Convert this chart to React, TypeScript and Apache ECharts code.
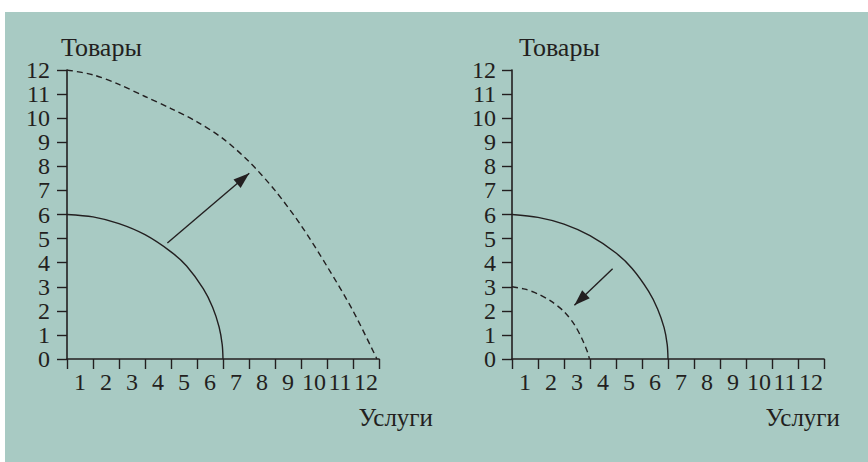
import React, { useEffect, useRef } from "react";
import * as echarts from "echarts";

const INK = "#231f20";
const BG = "#a8cac3";
const FONT = "Liberation Serif";

// Tick labels
const xTickLabels = ["1", "2", "3", "4", "5", "6", "7", "8", "9", "10", "11", "12"];
const axisMin = 0;
const axisMax = 12;

// Left panel: growth of the frontier
const leftSolidX = [0, 1, 2, 3, 4, 4.6, 5.24, 5.6, 5.85, 5.97, 6.0];
const leftSolidY = [6, 5.9, 5.62, 5.16, 4.45, 3.86, 2.92, 2.15, 1.33, 0.6, 0];
const leftDashedX = [0, 1, 2, 3, 4, 5, 6, 7, 8, 9, 10, 11, 11.92];
const leftDashedY = [12, 11.8, 11.4, 10.9, 10.4, 9.85, 9.15, 8.2, 7.0, 5.55, 3.85, 2.0, 0];
const leftArrow = [
  [3.86, 4.82],
  [7.01, 7.71],
];

// Right panel: contraction of the frontier
const rightSolidX = [0, 1, 2, 3, 4, 4.62, 5.25, 5.6, 5.85, 5.97, 6.0];
const rightSolidY = [6, 5.88, 5.6, 5.12, 4.4, 3.76, 2.82, 2.08, 1.3, 0.6, 0];
const rightDashedX = [0, 0.5, 1, 1.5, 2, 2.4, 2.7, 2.9, 2.98];
const rightDashedY = [3, 2.9, 2.7, 2.4, 1.97, 1.43, 0.82, 0.3, 0];
const rightArrow = [
  [3.87, 3.75],
  [2.4, 2.23],
];

const yName = "Товары";
const xName = "Услуги";

function zip(xs: number[], ys: number[]) {
  return xs.map((x, i) => [x, ys[i]]);
}

function valueX(gridIndex: number) {
  return {
    type: "value",
    gridIndex,
    min: axisMin,
    max: axisMax,
    interval: 1,
    position: "bottom",
    axisLine: { show: true, onZero: false, lineStyle: { color: INK, width: 1.6 } },
    axisTick: { show: true, length: 10, lineStyle: { color: INK, width: 1.4 } },
    axisLabel: { show: false },
    splitLine: { show: false },
  };
}

function categoryX(gridIndex: number) {
  return {
    type: "category",
    gridIndex,
    data: xTickLabels,
    boundaryGap: true,
    position: "bottom",
    axisLine: { show: false },
    axisTick: { show: false },
    axisLabel: {
      show: true,
      margin: 11,
      color: INK,
      fontFamily: FONT,
      fontSize: 24,
      lineHeight: 24,
      interval: 0,
    },
    splitLine: { show: false },
  };
}

function valueY(gridIndex: number, margin: number) {
  return {
    type: "value",
    gridIndex,
    min: axisMin,
    max: axisMax,
    interval: 1,
    axisLine: { show: true, lineStyle: { color: INK, width: 1.6 } },
    axisTick: { show: true, length: 10, lineStyle: { color: INK, width: 1.4 } },
    axisLabel: {
      show: true,
      margin,
      color: INK,
      fontFamily: FONT,
      fontSize: 24,
      lineHeight: 24,
    },
    splitLine: { show: false },
  };
}

function curve(xAxisIndex: number, yAxisIndex: number, xs: number[], ys: number[], dashed: boolean) {
  return {
    type: "line",
    xAxisIndex,
    yAxisIndex,
    data: zip(xs, ys),
    smooth: 0.3,
    symbol: "none",
    silent: true,
    lineStyle: {
      color: INK,
      width: 1.4,
      type: dashed ? [6, 4] : "solid",
    },
  };
}

function arrow(xAxisIndex: number, yAxisIndex: number, pts: number[][]) {
  return {
    type: "line",
    xAxisIndex,
    yAxisIndex,
    data: [],
    symbol: "none",
    silent: true,
    markLine: {
      silent: true,
      animation: false,
      symbol: ["none", "triangle"],
      symbolSize: [11, 16],
      symbolOffset: [
        [0, 0],
        [0, 8],
      ],
      label: { show: false },
      lineStyle: { color: INK, width: 1.4, type: "solid" },
      itemStyle: { color: INK },
      emphasis: { disabled: true },
      data: [[{ coord: pts[0] }, { coord: pts[1] }]],
    },
  };
}

export default function App() {
  const ref = useRef<HTMLDivElement>(null);

  useEffect(() => {
    if (!ref.current) return;
    const chart = echarts.init(ref.current, undefined, { renderer: "svg" });
    const yNameStyle = { fontFamily: FONT, fontSize: 26, fill: INK };
    const xNameStyle = { fontFamily: FONT, fontSize: 25, fill: INK };
    chart.setOption({
      animation: false,
      backgroundColor: "transparent",
      grid: [
        { left: 67, top: 70, width: 312, height: 289 },
        { left: 512, top: 70, width: 312, height: 289 },
      ],
      xAxis: [valueX(0), categoryX(0), valueX(1), categoryX(1)],
      yAxis: [valueY(0, 17), valueY(1, 16)],
      series: [
        curve(0, 0, leftSolidX, leftSolidY, false),
        curve(0, 0, leftDashedX, leftDashedY, true),
        arrow(0, 0, leftArrow),
        curve(2, 1, rightSolidX, rightSolidY, false),
        curve(2, 1, rightDashedX, rightDashedY, true),
        arrow(2, 1, rightArrow),
      ],
      graphic: [
        { type: "text", x: 61, y: 47, style: { ...yNameStyle, text: yName, textAlign: "left", textVerticalAlign: "middle" } },
        { type: "text", x: 519, y: 47, style: { ...yNameStyle, text: yName, textAlign: "left", textVerticalAlign: "middle" } },
        { type: "text", x: 433, y: 417, style: { ...xNameStyle, text: xName, textAlign: "right", textVerticalAlign: "middle" } },
        { type: "text", x: 840, y: 417, style: { ...xNameStyle, text: xName, textAlign: "right", textVerticalAlign: "middle" } },
      ],
    });
    return () => chart.dispose();
  }, []);

  return (
    <div style={{ position: "fixed", left: 0, top: 0, width: 868, height: 462, background: "#ffffff" }}>
      <div style={{ position: "absolute", left: 5, top: 12, right: 0, bottom: 0, background: BG }} />
      <div ref={ref} style={{ position: "absolute", left: 0, top: 0, width: 868, height: 462 }} />
    </div>
  );
}
